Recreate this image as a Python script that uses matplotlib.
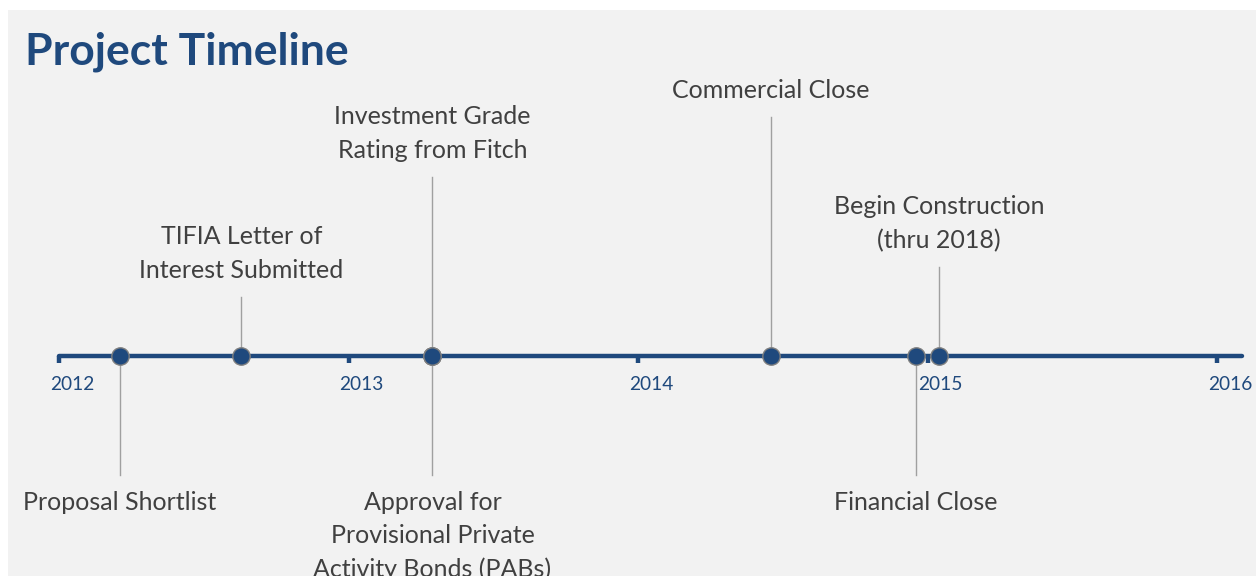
import matplotlib.pyplot as plt
from matplotlib.patches import Rectangle

# ---------------------------------------------------------
# Data
# ---------------------------------------------------------
events = ["Proposal Shortlist",
          "TIFIA Letter of\nInterest Submitted",
          "Investment Grade\nRating from Fitch",
          "Approval for\nProvisional Private\nActivity Bonds (PABs)",
          "Commercial Close",
          "Financial Close",
          "Begin Construction\n(thru 2018)"]
dates = [2012.21, 2012.63, 2013.29, 2013.29, 2014.46, 2014.96, 2015.04]
side = [-1, 1, 1, -1, 1, -1, 1]          # 1 = above the axis, -1 = below
years = [2012, 2013, 2014, 2015, 2016]

# ---------------------------------------------------------
# Styling
# ---------------------------------------------------------
blue = "#1f497d"
txt = "#404040"
stem_c = "#a0a0a0"
font = "Lato"
px_per_year = 289.5
x0 = 59            # pixel of 2012
axis_y = 356
stem_top = {1: 297, 2: 177, 4: 117, 6: 267}
stem_bot = 475

fig = plt.figure(figsize=(12.56, 5.76), dpi=100)
fig.patch.set_facecolor("white")
fig.patches.append(Rectangle((8 / 1256, 0), 1, 1 - 10 / 576, transform=fig.transFigure,
                             facecolor="#f2f2f2", edgecolor="none", zorder=-5))

ax = fig.add_axes([0, 0, 1, 1])
ax.set_xlim(2012 - x0 / px_per_year, 2012 + (1256 - x0) / px_per_year)
ax.set_ylim(576, 0)
ax.axis("off")
ax.patch.set_alpha(0)

# axis line + year ticks
ax.plot([2012, 2012 + (1242 - x0) / px_per_year], [axis_y, axis_y], color=blue, lw=3.2,
        solid_capstyle="round", zorder=2)
for y in years:
    ax.plot([y, y], [axis_y, axis_y + 7], color=blue, lw=3.2, solid_capstyle="butt", zorder=2)
    ax.text(y - 9 / px_per_year, 384, str(y), color=blue, fontsize=13.8, family=font,
            ha="left", va="center")

# stems, markers, labels
for i, (name, d, s) in enumerate(zip(events, dates, side)):
    if s > 0:
        top = stem_top[i]
        ax.plot([d, d], [axis_y, top], color=stem_c, lw=1, zorder=1)
        ax.text(d, top - 15, name, ha="center", va="bottom", color=txt, fontsize=18,
                family=font, linespacing=1.56, multialignment="center")
    else:
        ax.plot([d, d], [axis_y, stem_bot], color=stem_c, lw=1, zorder=1)
        ax.text(d, stem_bot + 16, name, ha="center", va="top", color=txt, fontsize=18,
                family=font, linespacing=1.52, multialignment="center")
    ax.plot(d, axis_y, "o", ms=12.5, color=blue, mec="#7f7f7f", mew=1, zorder=3)

fig.text(25 / 1256, 1 - 52 / 576, "Project Timeline", color=blue, fontsize=32,
         fontweight="bold", family=font, ha="left", va="center")

fig.savefig("out.png", dpi=100, facecolor=fig.get_facecolor())
